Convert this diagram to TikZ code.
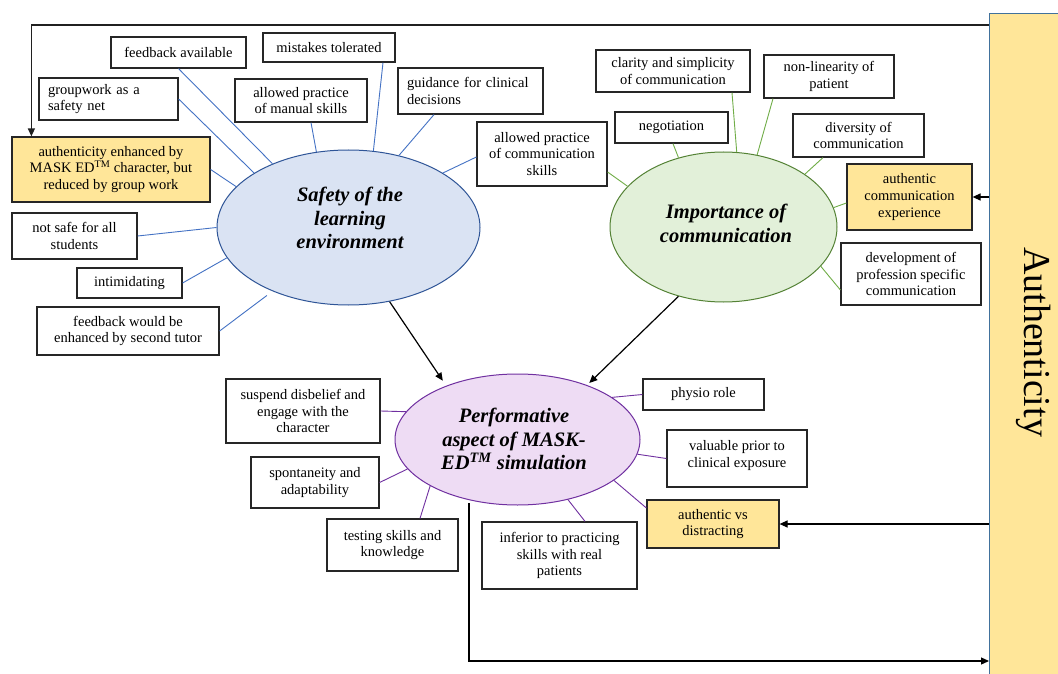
\documentclass[tikz,border=0pt]{standalone}
\usepackage{fontspec}
\setmainfont{Liberation Serif}
\usetikzlibrary{arrows.meta,calc,shapes.geometric}

\definecolor{boxc}{HTML}{262626}
\definecolor{ylw}{HTML}{FFE699}
\definecolor{bluef}{HTML}{DAE3F3}
\definecolor{bluel}{HTML}{4472C4}
\definecolor{blued}{HTML}{2F5597}
\definecolor{greenf}{HTML}{E2F0D9}
\definecolor{greenl}{HTML}{70AD47}
\definecolor{greend}{HTML}{548235}
\definecolor{purplef}{HTML}{EEDCF4}
\definecolor{purplel}{HTML}{7030A0}
\definecolor{topl}{HTML}{202020}
\definecolor{authb}{HTML}{41719C}

\newcommand{\bxfont}{\fontsize{14.5}{16.8}\selectfont}
\newcommand{\elfont}{\fontsize{20.5}{23.5}\selectfont\bfseries\itshape}

\begin{document}
\begin{tikzpicture}[x=1pt,y=-1pt,
  bx/.style={draw=boxc,line width=1.2pt,fill=white,inner sep=0pt,align=center,font=\bxfont,rectangle},
  lbx/.style={bx,align=left,inner xsep=9pt},
  ybx/.style={bx,fill=ylw},
  el/.style={ellipse,inner sep=0pt,line width=1pt},
  eltext/.style={align=center,font=\elfont,inner sep=0pt},
  bl/.style={draw=bluel,line width=0.9pt},
  gl/.style={draw=greenl,line width=0.9pt},
  pl/.style={draw=purplel,line width=0.9pt},
  arr/.style={draw=black,line width=1.2pt,-{Triangle[length=8pt,width=7pt]}},
]
\useasboundingbox (0,0) rectangle (1058,674);
\clip (0,0) rectangle (1058,674);
\fill[white] (0,0) rectangle (1058,674);

% Authenticity bar
\node[draw=authb,fill=ylw,line width=0.8pt,rectangle,inner sep=0pt,anchor=north west,minimum width=110,minimum height=700] (auth) at (989,13) {};
\node[rotate=-90,inner sep=0pt,font=\fontsize{38}{40}\selectfont] (authT) at (1034,342) {Authenticity};

% Ellipses
\node[el,draw=blued,fill=bluef,minimum width=263,minimum height=155] (safety) at (348.5,227.5) {};
\node[eltext] (safetyT) at (350,218) {Safety of the\\learning\\environment};
\node[el,draw=greend,fill=greenf,minimum width=227,minimum height=150] (imp) at (723.5,227) {};
\node[eltext] (impT) at (726,223.5) {Importance of\\communication};
\node[el,draw=purplel,fill=purplef,minimum width=245,minimum height=131] (perf) at (517.5,439.5) {};
\node[eltext] (perfT) at (514,439) {Performative\\aspect of MASK-\\ED\textsuperscript{TM} simulation};

% Safety boxes
\node[bx,minimum width=135,minimum height=31] (fa) at (178.5,52.5) {feedback available};
\node[bx,minimum width=132,minimum height=29] (mt) at (329,47.5) {mistakes tolerated};
\node[lbx,text width=121,minimum width=139,minimum height=42] (gw) at (108.5,99) {groupwork as a\\safety net};
\node[bx,minimum width=132,minimum height=43] (mn) at (301,100.5) {allowed practice\\of manual skills};
\node[lbx,text width=127,minimum width=145,minimum height=46] (gd) at (470.5,91) {guidance for clinical\\decisions};
\node[bx,minimum width=130,minimum height=64] (ac) at (542,154) {allowed practice\\of communication\\skills};
\node[ybx,minimum width=198,minimum height=65] (yb) at (111,169.5) {authenticity enhanced by\\MASK ED\textsuperscript{TM} character, but\\reduced by group work};
\node[bx,minimum width=125,minimum height=46] (ns) at (74.5,236) {not safe for all\\students};
\node[bx,minimum width=105,minimum height=30] (im) at (129.5,283) {intimidating};
\node[bx,minimum width=182,minimum height=48] (fw) at (128,331) {feedback would be\\enhanced by second tutor};

% Communication boxes
\node[bx,minimum width=154,minimum height=42] (cl) at (673,71) {clarity and simplicity\\of communication};
\node[bx,minimum width=130,minimum height=43] (nl) at (829,76.5) {non-linearity of\\patient};
\node[bx,minimum width=113,minimum height=31] (ng) at (671.5,127.5) {negotiation};
\node[bx,minimum width=131,minimum height=43] (dv) at (858.5,135.5) {diversity of\\communication};
\node[ybx,minimum width=125,minimum height=66] (acx) at (909.5,197) {authentic\\communication\\experience};
\node[bx,minimum width=140,minimum height=62] (dev) at (911,274) {development of\\profession specific\\communication};

% Performative boxes
\node[bx,minimum width=154,minimum height=64] (su) at (303,411) {suspend disbelief and\\engage with the\\character};
\node[bx,minimum width=128,minimum height=51] (sp) at (315,482.5) {spontaneity and\\adaptability};
\node[bx,minimum width=131,minimum height=52] (ts) at (392.5,545) {testing skills and\\knowledge};
\node[bx,minimum width=155,minimum height=67] (inf) at (559.5,555.5) {inferior to practicing\\skills with real\\patients};
\node[bx,minimum width=121,minimum height=31] (ph) at (703.5,394.5) {physio role};
\node[bx,minimum width=140,minimum height=57] (va) at (737,458.5) {valuable prior to\\clinical exposure\\[-7pt]\mbox{}};
\node[ybx,minimum width=132,minimum height=48] (av) at (713,524) {authentic vs\\distracting};

% Safety connectors
\draw[bl] (fa.south) -- (safety.140);
\draw[bl] (gw.east) -- (safety.150);
\draw[bl] (yb.east) -- (safety.160.5);
\draw[bl] (ns.east) -- (safety.180);
\draw[bl] (im.east) -- (safety.194);
\draw[bl,shorten >=7pt] (fw.east) -- (safety.220.4);
\draw[bl] ($(mt.south)+(54,0)$) -- (safety.72);
\draw[bl] ($(mn.south)+(10,0)$) -- (safety.113.7);
\draw[bl] ($(gd.south)+(-36.5,0)$) -- (safety.55.8);
\draw[bl] ($(ac.west)+(0,3)$) -- (safety.30.1);

% Communication connectors
\draw[gl] ($(cl.south)+(59,0)$) -- (imp.80.3);
\draw[gl] ($(nl.south)+(-56,0)$) -- (imp.65);
\draw[gl] ($(ng.south)+(1.5,0)$) -- (imp.123.3);
\draw[gl] ($(dv.south)+(-35.5,0)$) -- (imp.33.4);
\draw[gl] ($(acx.west)+(0,6)$) -- (imp.10.2);
\draw[gl] ($(dev.west)+(0,16)$) -- (imp.-22.4);
\draw[gl] ($(ac.east)+(0,18)$) -- (imp.157.3);

% Performative connectors
\draw[pl] (su.east) -- (perf.166.9);
\draw[pl] (sp.east) -- (perf.195.6);
\draw[pl] ($(ts.north)+(27.5,0)$) -- (perf.208.5);
\draw[pl] ($(inf.north)+(25.5,0)$) -- (perf.-50.1);
\draw[pl] (ph.west) -- (perf.24);
\draw[pl] (va.west) -- (perf.-7.4);
\draw[pl] ($(av.west)+(0,-16)$) -- (perf.-23.6);

% Main arrows
\draw[arr,shorten >=6pt] (safety.-61.9) -- (perf.143.9);
\draw[arr,shorten >=3pt] (imp.237.7) -- (perf.38.7);

% Authenticity connectors
\draw[arr,draw=topl,line width=1.3pt] ($(auth.north west)+(0,12)$) -| ($(yb.north west)+(20,0)$);
\draw[arr] (auth.west |- acx.east) -- (acx.east);
\draw[arr] (auth.west |- av.east) -- (av.east);
\coordinate (bot) at (989,661);
\draw[arr] ($(perf.center)+(-48.5,63.5)$) |- (auth.west |- bot);
\end{tikzpicture}
\end{document}
